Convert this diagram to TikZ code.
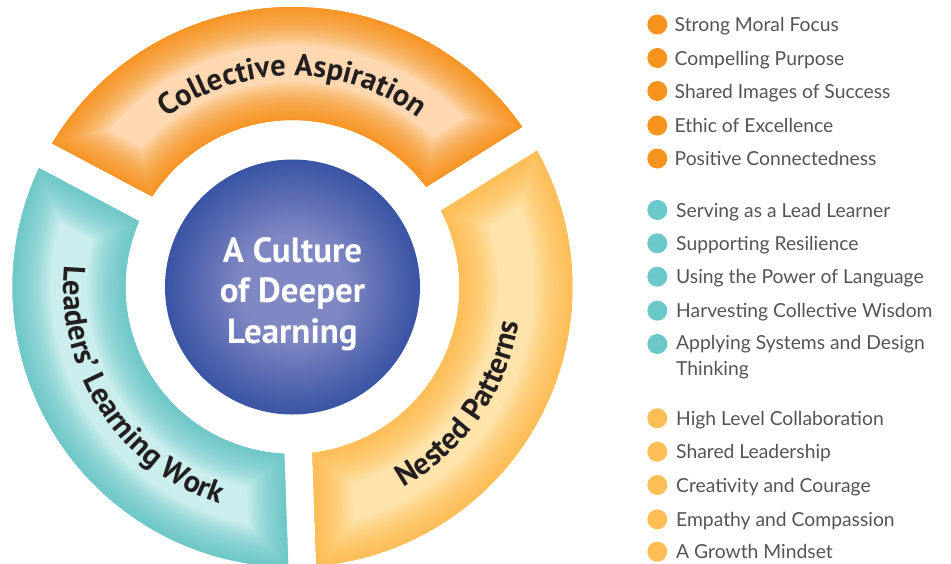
\documentclass[tikz,border=0pt]{standalone}
\usepackage{fontspec}
\usetikzlibrary{decorations.text}
\newfontfamily\RingFam{PT Sans}
\newfontfamily\LegFam{Lato}
\newcommand\RingFont{\RingFam\bfseries\fontsize{30.5}{31}\selectfont}
\newcommand\CoreFont{\RingFam\bfseries\fontsize{35}{40.7}\selectfont}
\newcommand\LegFont{\LegFam\fontsize{19.3}{25.6}\selectfont}
\definecolor{orangeD}{HTML}{F7941E}
\definecolor{orangeL}{HTML}{FDD8B0}
\definecolor{tealD}{HTML}{6BC8C8}
\definecolor{tealL}{HTML}{CBEDED}
\definecolor{yellowD}{HTML}{FDBF55}
\definecolor{yellowL}{HTML}{FEE3AA}
\definecolor{centerL}{HTML}{8088C4}
\definecolor{centerD}{HTML}{3A54A4}
\definecolor{labelC}{HTML}{231F20}
\definecolor{legC}{HTML}{545457}
\pgfdeclareradialshading{centershade}{\pgfpoint{0bp}{0bp}}{color(0bp)=(centerL); color(10bp)=(centerL); color(25bp)=(centerD); color(50bp)=(centerD)}
\begin{document}
\begin{tikzpicture}[x=1pt,y=1pt,
  segshape/.style 2 args={insert path={({#1+2.866}:280) arc[start angle={#1+2.866}, end angle={#2-2.866}, radius=280] -- ({#2-4.81}:167) arc[start angle={#2-4.81}, end angle={#1+4.81}, radius=167] -- cycle}},
  dot/.style={circle, inner sep=0pt, minimum size=20pt, fill=#1},
  legtext/.style={anchor=base west, inner sep=0pt, text=legC, font=\LegFont, align=left}
]
\useasboundingbox (0,0) rectangle (951,-563);
\coordinate (C) at (292.5,-287);
\begin{scope}[shift={(C)}]
  \foreach \a/\b/\cd/\cl in {32/152/orangeD/orangeL, 152/272/tealD/tealL, 272/392/yellowD/yellowL}{
    \begin{scope}
      \path[clip, segshape={\a}{\b}];
      \path[fill=\cl, segshape={\a}{\b}];
      \foreach \k in {1,...,24}{
        \pgfmathsetmacro\lw{76*pow(\k/24,1.6)}
        \path[draw=\cd, draw opacity=0.1, line width=\lw pt, segshape={\a}{\b}];
      }
    \end{scope}
  }
  \path[decorate, decoration={text along path, text align=center, text={|\RingFont\color{labelC}|Collective Aspiration}}] (150:211) arc[start angle=150, end angle=30, radius=211];
  \path[decorate, decoration={text along path, text align=center, text={|\RingFont\color{labelC}|Leaders’ Learning Work}}] (150:229) arc[start angle=150, end angle=276, radius=229];
  \path[decorate, decoration={text along path, text align=center, text={|\RingFont\color{labelC}|Nested Patterns}}] (-95:229) arc[start angle=-95, end angle=25, radius=229];
\end{scope}
\node[circle, inner sep=0pt, minimum size=255pt, shading=centershade] (core) at (C) {};
\node[text=white, align=center, font=\CoreFont, inner sep=0pt] (coretext) at ([yshift=-7pt]core.center) {A Culture\\of Deeper\\Learning};
% legend
\foreach \y/\t [count=\i] in {24.5/Strong Moral Focus, 58/Compelling Purpose, 91/Shared Images of Success, 125.5/Ethic of Excellence, 158.5/Positive Connectedness}{
  \node[dot=orangeD] (od\i) at (657.3,-\y) {};
  \node[legtext] (ot\i) at (674.5,-\y-7) {\t};
}
\foreach \y/\t [count=\i] in {210/Serving as a Lead Learner, 243.3/Supporting Resilience, 276.7/Using the Power of Language, 310.7/Harvesting Collective Wisdom}{
  \node[dot=tealD] (td\i) at (657.3,-\y) {};
  \node[legtext] (tt\i) at (676,-\y-7) {\t};
}
\node[dot=tealD] (td5) at (657.3,-344) {};
\node[legtext] (tt5) at (676,-375.5) {Applying Systems and Design\\Thinking};
\foreach \y/\t [count=\i] in {418.3/High Level Collaboration, 451.7/Shared Leadership, 485/Creativity and Courage, 519.3/Empathy and Compassion, 551.7/A Growth Mindset}{
  \node[dot=yellowD] (yd\i) at (657.3,-\y) {};
  \node[legtext] (yt\i) at (676,-\y-7) {\t};
}
\end{tikzpicture}
\end{document}
